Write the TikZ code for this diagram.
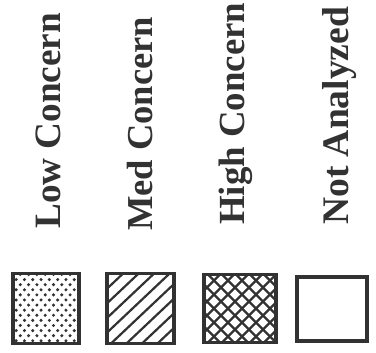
\documentclass[tikz,border=0pt]{standalone}
\usepackage{fontspec}
\setmainfont{Liberation Serif}
\begin{document}
\begin{tikzpicture}[x=1pt,y=-1pt,
  lbl/.style={rotate=90,anchor=base west,inner sep=0pt,text=ink,font=\bfseries\fontsize{37}{37}\selectfont},
  keybox/.style={draw=ink,line width=3.2pt,inner sep=0pt,rectangle},
  hatch/.style={draw=ink,line width=2.2pt}]
\definecolor{ink}{RGB}{50,50,50}
\useasboundingbox (0,0) rectangle (376,353);
% labels
\node[lbl] (low) at (60,229) {\resizebox{216pt}{!}{Low Concern}};
\node[lbl] (med) at (153,231) {\resizebox{214pt}{!}{Med Concern}};
\node[lbl] (high) at (244,225) {\resizebox{222pt}{!}{High Concern}};
\node[lbl] (nota) at (348,225) {\resizebox{218pt}{!}{Not Analyzed}};
% boxes
\node[keybox,minimum width=66pt,minimum height=70pt,
  path picture={
    \foreach \j in {0,...,15}{
      \pgfmathsetmacro{\off}{mod(\j,2)*4.15}
      \foreach \i in {0,...,9}{
        \fill[ink] ([xshift=\i*8.3pt+\off pt-1pt,yshift=-\j*5.1pt-1pt]path picture bounding box.north west) circle (1.7pt);
      }}
  }] (b1) at (46,308.5) {};
\node[keybox,minimum width=67pt,minimum height=70pt,
  path picture={
    \foreach \k in {-6,...,6}{
      \draw[hatch] ([xshift=\k*15.5pt+4pt]path picture bounding box.south west) -- ++(90pt,85pt);
    }
  }] (b2) at (140.5,308.5) {};
\node[keybox,minimum width=72pt,minimum height=68pt,
  path picture={
    \foreach \k in {-7,...,7}{
      \draw[hatch] ([xshift=\k*14pt+4pt]path picture bounding box.south west) -- ++(85pt,85pt);
      \draw[hatch] ([xshift=\k*14pt+4pt]path picture bounding box.north west) -- ++(85pt,-85pt);
    }
  }] (b3) at (240,308.5) {};
\node[keybox,minimum width=70pt,minimum height=64pt] (b4) at (332,309) {};
\end{tikzpicture}
\end{document}
